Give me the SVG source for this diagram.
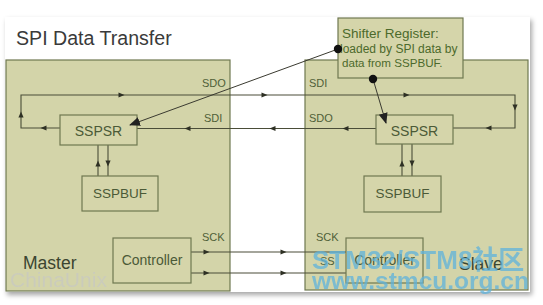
<svg xmlns="http://www.w3.org/2000/svg" width="543" height="305" viewBox="0 0 543 305">
<style>
text{font-family:"Liberation Sans",Arial,sans-serif}
.box{fill:#d5d5aa;stroke:#6f7850;stroke-width:1.2}
.panel{fill:#d3d4a9;stroke:#6f7850;stroke-width:1.2}
.ln{fill:none;stroke:#4a4d38;stroke-width:1.1}
.ptr{fill:none;stroke:#3a3a30;stroke-width:1}
.reg{font-size:14px;fill:#4b5a37;text-anchor:middle}
.lbl{font-size:11px;fill:#4f6038}
.big{font-size:17.5px;fill:#3b4530}
.sh{fill:#4c6a2c}
.ah{fill:#2e3024}
</style>
<defs>
<path id="ah" d="M-3.5,-2.6 L2.5,0 L-3.5,2.6 Z"/>
<marker id="big" markerWidth="12" markerHeight="10" refX="10" refY="4.5" orient="auto" markerUnits="userSpaceOnUse"><path d="M0,0 L11,4.5 L0,9 Z" fill="#222"/></marker>
<marker id="dot" markerWidth="10" markerHeight="10" refX="5" refY="5" markerUnits="userSpaceOnUse"><circle cx="5" cy="5" r="4.2" fill="#111"/></marker>
<filter id="shadow" x="-5%" y="-5%" width="110%" height="115%"><feDropShadow dx="2" dy="3" stdDeviation="2.5" flood-color="#000" flood-opacity="0.35"/></filter>
</defs>
<rect x="0" y="0" width="543" height="305" fill="#fff"/>
<rect x="5" y="17" width="525" height="275" fill="#fff" filter="url(#shadow)"/>
<text x="16" y="45" style="font-size:19.6px;fill:#3a3a3a">SPI Data Transfer</text>

<g id="master">
<rect class="panel" x="6" y="60" width="224" height="231"/>
<text class="big" x="23" y="269">Master</text>
</g>
<g id="slave">
<rect class="panel" x="305" y="60" width="223" height="230"/>
<text class="big" x="459" y="270">Slave</text>
</g>

<g id="connectors">
<polyline class="ln" points="60,128 21,128 21,95 515,95 515,128 453,128"/>
<line class="ln" x1="376" y1="128.5" x2="137" y2="128.5"/>
<line class="ln" x1="98" y1="145" x2="98" y2="176"/>
<line class="ln" x1="108" y1="145" x2="108" y2="176"/>
<line class="ln" x1="402" y1="144" x2="402" y2="176"/>
<line class="ln" x1="412" y1="144" x2="412" y2="176"/>
<line class="ln" x1="191" y1="252" x2="346" y2="252"/>
<line class="ln" x1="191" y1="273" x2="346" y2="273"/>
<g class="ah">
<use href="#ah" transform="translate(122,95)"/>
<use href="#ah" transform="translate(265,95)"/>
<use href="#ah" transform="translate(407,95)"/>
<use href="#ah" transform="translate(515,108) rotate(90)"/>
<use href="#ah" transform="translate(488,128) rotate(180)"/>
<use href="#ah" transform="translate(43,128) rotate(180)"/>
<use href="#ah" transform="translate(21,114) rotate(-90)"/>
<use href="#ah" transform="translate(345,128.5) rotate(180)"/>
<use href="#ah" transform="translate(272,128.5) rotate(180)"/>
<use href="#ah" transform="translate(187,128.5) rotate(180)"/>
<use href="#ah" transform="translate(98,163) rotate(-90)"/>
<use href="#ah" transform="translate(108,164) rotate(90)"/>
<use href="#ah" transform="translate(402,163) rotate(-90)"/>
<use href="#ah" transform="translate(412,164) rotate(90)"/>
<use href="#ah" transform="translate(207,252)"/>
<use href="#ah" transform="translate(207,273)"/>
<use href="#ah" transform="translate(284,252)"/>
<use href="#ah" transform="translate(284,273)"/>
</g>
<text class="lbl" x="202" y="87">SDO</text>
<text class="lbl" x="204" y="122">SDI</text>
<text class="lbl" x="309" y="87">SDI</text>
<text class="lbl" x="309" y="122">SDO</text>
<text class="lbl" x="202" y="241">SCK</text>
<text class="lbl" x="316" y="241">SCK</text>
<text class="lbl" x="320" y="265">SS</text>
</g>

<g id="m-sspsr">
<rect class="box" x="60" y="115" width="77" height="30"/>
<text class="reg" x="98.5" y="136">SSPSR</text>
</g>
<g id="m-sspbuf">
<rect class="box" x="82" y="176" width="76" height="35"/>
<text class="reg" x="120" y="198" style="font-size:13.5px">SSPBUF</text>
</g>
<g id="m-controller">
<rect class="box" x="113" y="238" width="78" height="45"/>
<text class="reg" x="152" y="265">Controller</text>
</g>
<g id="s-sspsr">
<rect class="box" x="376" y="115" width="77" height="29"/>
<text class="reg" x="414.5" y="136">SSPSR</text>
</g>
<g id="s-sspbuf">
<rect class="box" x="364" y="176" width="77" height="36"/>
<text class="reg" x="402.5" y="198" style="font-size:13.5px">SSPBUF</text>
</g>
<g id="s-controller">
<rect class="box" x="346" y="238" width="77" height="45"/>
<text class="reg" x="384.5" y="265">Controller</text>
</g>

<g id="shifter">
<rect class="box" x="338" y="18" width="125" height="60"/>
<text class="sh" x="342" y="38" style="font-size:13.5px">Shifter Register:</text>
<text class="sh" x="340" y="53" style="font-size:12px">loaded by SPI data by</text>
<text class="sh" x="342" y="67" style="font-size:11.6px">data from SSPBUF.</text>
</g>

<g id="pointers">
<line class="ptr" x1="338" y1="49" x2="130" y2="125" marker-start="url(#dot)" marker-end="url(#big)"/>
<line class="ptr" x1="373" y1="79" x2="386" y2="123" marker-start="url(#dot)" marker-end="url(#big)"/>
</g>

<g id="watermarks">
<text x="10" y="287" style="font-size:21px;fill:#c9cac0;opacity:0.8">ChinaUnix</text>
<text x="312" y="269" style="font-size:26px;font-weight:bold;fill:#5fb3dc;opacity:0.75;font-family:'Liberation Sans','Noto Sans CJK SC',sans-serif">STM32/STM8社区</text>
<text x="312" y="289" style="font-size:24.5px;font-weight:bold;fill:#5fb3dc;opacity:0.75">www.stmcu.org.cn</text>
</g>
</svg>
